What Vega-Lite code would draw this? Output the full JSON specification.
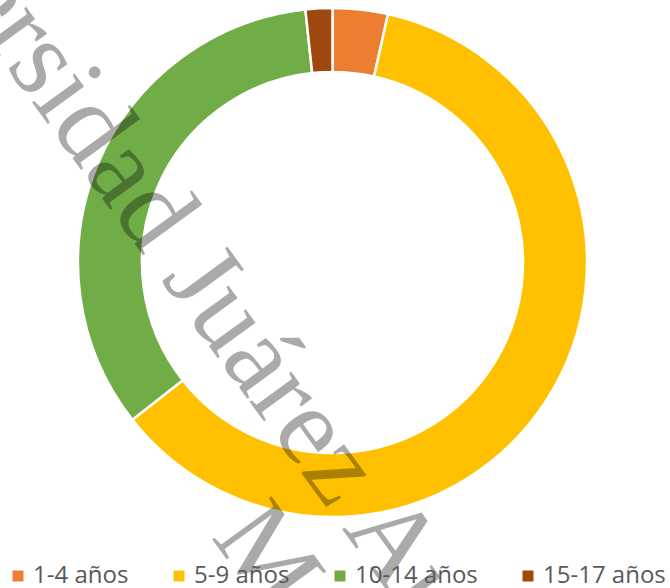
{
  "$schema": "https://vega.github.io/schema/vega-lite/v6.json",
  "width": 665,
  "height": 525,
  "padding": {"top": 0, "left": 0, "right": 5, "bottom": 63},
  "autosize": {"type": "none"},
  "background": "white",
  "config": {"view": {"stroke": null}},
  "layer": [
    {
      "data": {
        "values": [
          {"grupo": "1-4 años", "valor": 3.5, "orden": 1},
          {"grupo": "5-9 años", "valor": 60.9, "orden": 2},
          {"grupo": "10-14 años", "valor": 33.9, "orden": 3},
          {"grupo": "15-17 años", "valor": 1.7, "orden": 4}
        ]
      },
      "mark": {"type": "arc", "outerRadius": 254.5, "innerRadius": 190.5, "stroke": "white", "strokeWidth": 2.5},
      "encoding": {
        "theta": {"field": "valor", "type": "quantitative", "stack": true},
        "order": {"field": "orden", "type": "quantitative"},
        "color": {
          "field": "grupo",
          "type": "nominal",
          "scale": {
            "domain": ["1-4 años", "5-9 años", "10-14 años", "15-17 años"],
            "range": ["#ED7D31", "#FFC000", "#70AD47", "#9E480E"]
          },
          "legend": {
            "title": null,
            "orient": "none",
            "legendX": 6,
            "legendY": 564,
            "direction": "horizontal",
            "gridAlign": "none",
            "padding": 0,
            "symbolType": "square",
            "symbolSize": 121,
            "symbolStrokeWidth": 0,
            "labelFont": "Open Sans",
            "labelFontSize": 24,
            "labelColor": "#595959",
            "labelOffset": 3,
            "columnPadding": 38
          }
        }
      }
    },
    {
      "data": {"values": [{"texto": "Universidad Juárez Autónoma de Tabasco"}]},
      "mark": {"type": "text", "font": "Liberation Serif", "fontSize": 112, "angle": 54, "align": "left", "baseline": "alphabetic", "dx": -663, "dy": 149, "fill": "black", "opacity": 0.33},
      "encoding": {"text": {"field": "texto"}}
    },
    {
      "data": {"values": [{"texto": "México"}]},
      "mark": {"type": "text", "font": "Liberation Serif", "fontSize": 112, "angle": 54, "align": "left", "baseline": "alphabetic", "dx": 150, "dy": 260, "fill": "black", "opacity": 0.33},
      "encoding": {"text": {"field": "texto"}}
    }
  ]
}
